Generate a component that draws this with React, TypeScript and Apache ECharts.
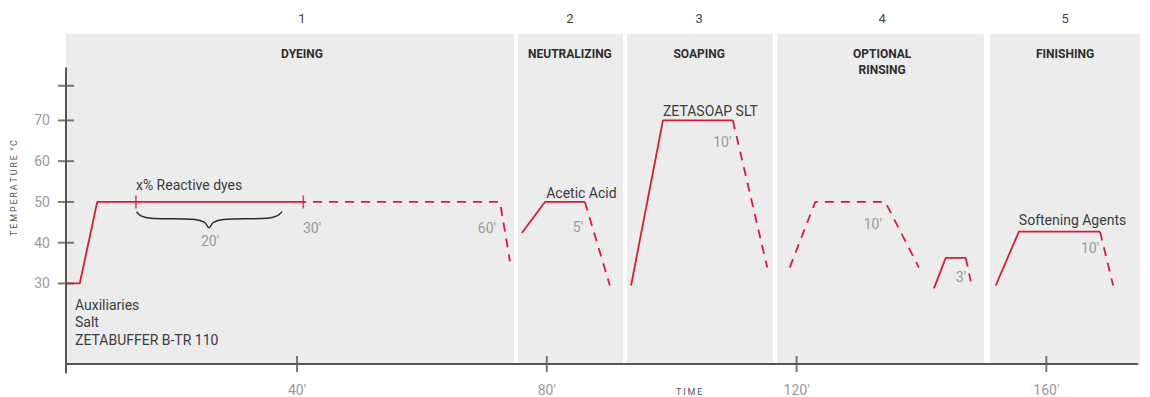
import React, { useEffect, useRef } from "react";
import * as echarts from "echarts";

const RED = "#d81a3d";
const AXIS = "#5b5552";
const GRAY = "#9a9a9a";
const DARK = "#3c3c3c";
const PANEL = "#ececec";
const FONT = "Roboto, 'Noto Sans', sans-serif";

// axes
const xTickValues = [40, 80, 120, 160];
const yTickValues = [30, 40, 50, 60, 70, 78.5];
const yLabelValues = [30, 40, 50, 60, 70];
const xAxisLine = [[1.7, 10.25], [174.7, 10.25]];
const yAxisLine = [[3, 8], [3, 83]];

// phases
const phaseNumbers = ["1", "2", "3", "4", "5"];
const phaseTitles = ["DYEING", "NEUTRALIZING", "SOAPING", "OPTIONAL\nRINSING", "FINISHING"];
const phaseStart = [3, 75.4, 92.85, 116.9, 151];
const phaseEnd = [74.75, 92.2, 116.2, 150, 175];
const phaseLabelX = [40.8, 83.7, 104.4, 133.7, 163.0];

// temperature profile: solid segments
const solidSegments = [
  [[3, 30], [5.2, 30], [8, 50], [40, 50]],
  [[76, 42.4], [79.7, 50], [86.1, 50]],
  [[93.5, 29.5], [98.6, 70], [109.8, 70]],
  [[142, 28.8], [143.9, 36.3], [147.1, 36.3]],
  [[151.9, 29.5], [155.6, 42.7], [168.6, 42.7]],
];
// dashed segments
const dashedSegments = [
  [[40, 50], [72.5, 50], [74.1, 35.4]],
  [[86.1, 50], [90.1, 29.5]],
  [[109.8, 70], [115.3, 33.9]],
  [[118.9, 33.9], [123, 50], [134.2, 50], [139.6, 33.9]],
  [[147.1, 36.3], [147.9, 30.5]],
  [[168.6, 42.7], [170.7, 29.5]],
];
const lineMarks = [[14.2, 50], [41, 50]];
const bracePoints = [
  [14.3, 47.6], [15.0, 46.6], [16.6, 46.0], [23.6, 45.7], [25.2, 45.0], [25.9, 43.7],
  [26.6, 45.0], [28.2, 45.7], [35.2, 46.0], [36.8, 46.6], [37.6, 47.6],
];

// annotations: text, x, y, kind
const annoTexts = [
  "x% Reactive dyes", "20′", "30′", "60′", "Acetic Acid", "5′", "ZETASOAP SLT", "10′",
  "10′", "3′", "Softening Agents", "10′", "Auxiliaries", "Salt", "ZETABUFFER B-TR 110",
];
const annoX = [14.2, 26.06, 42.4, 70.4, 79.9, 85.0, 98.6, 108.1, 132.2, 146.3, 155.6, 167.0, 4.44, 4.44, 4.44];
const annoY = [54.2, 40.5, 43.7, 43.7, 52.2, 43.9, 72.2, 64.6, 44.6, 31.7, 45.6, 38.8, 24.6, 20.5, 16.1];
const annoDark = [true, false, false, false, true, false, true, false, false, false, true, false, true, true, true];

export default function App() {
  const ref = useRef<HTMLDivElement>(null);
  useEffect(() => {
    const chart = echarts.init(ref.current!, null, { renderer: "svg" });
    const series: any[] = [];
    series.push({
      type: "line",
      data: yAxisLine,
      symbol: "none",
      clip: false,
      z: 5,
      silent: true,
      lineStyle: { color: AXIS, width: 2 },
      markArea: {
        silent: true,
        itemStyle: { color: PANEL },
        data: phaseStart.map((s, i) => [{ xAxis: s }, { xAxis: phaseEnd[i] }]),
      },
    });
    series.push({
      type: "line",
      data: xAxisLine,
      symbol: "none",
      clip: false,
      z: 5,
      silent: true,
      lineStyle: { color: AXIS, width: 2 },
    });
    series.push({
      type: "scatter",
      data: xTickValues.map((v) => [v, 10.25]),
      symbol: "rect",
      symbolSize: [2, 16],
      clip: false,
      z: 5,
      silent: true,
      itemStyle: { color: AXIS },
    });
    series.push({
      type: "scatter",
      data: yTickValues.map((v) => [3, v]),
      symbol: "rect",
      symbolSize: [16, 2],
      clip: false,
      z: 5,
      silent: true,
      itemStyle: { color: AXIS },
    });
    solidSegments.forEach((seg) =>
      series.push({
        type: "line",
        data: seg,
        symbol: "none",
        clip: false,
        z: 4,
        silent: true,
        lineStyle: { color: RED, width: 1.8 },
      })
    );
    dashedSegments.forEach((seg) =>
      series.push({
        type: "line",
        data: seg,
        symbol: "none",
        clip: false,
        z: 4,
        silent: true,
        lineStyle: { color: RED, width: 1.8, type: [9, 7] },
      })
    );
    series.push({
      type: "scatter",
      data: lineMarks,
      symbol: "rect",
      symbolSize: [1.6, 13],
      z: 4,
      silent: true,
      itemStyle: { color: RED },
    });
    series.push({
      type: "line",
      data: bracePoints,
      symbol: "none",
      smooth: 0.35,
      z: 4,
      silent: true,
      lineStyle: { color: "#2a2a2a", width: 1.4 },
    });

    chart.setOption({
      animation: false,
      textStyle: { fontFamily: FONT },
      grid: { left: 66, right: 10, top: 34, bottom: 30, containLabel: false },
      xAxis: {
        type: "value",
        min: 3,
        max: 175,
        axisLine: { show: false },
        axisTick: { show: false },
        splitLine: { show: false },
        axisLabel: {
          customValues: xTickValues,
          formatter: (v: number) => v + "′",
          color: GRAY,
          fontSize: 14,
          margin: 18,
          fontFamily: FONT,
        },
      },
      yAxis: {
        type: "value",
        min: 10,
        max: 91.2,
        axisLine: { show: false },
        axisTick: { show: false },
        splitLine: { show: false },
        axisLabel: {
          customValues: yLabelValues,
          color: GRAY,
          fontSize: 14,
          margin: 16,
          fontFamily: FONT,
        },
      },
      series,
    });

    const px = (x: number, y: number) => chart.convertToPixel({ gridIndex: 0 }, [x, y]) as number[];
    const graphics: any[] = [];
    phaseNumbers.forEach((n, i) => {
      const [x] = px(phaseLabelX[i], 50);
      graphics.push({
        type: "text",
        x,
        y: 18,
        z: 10,
        style: { text: n, fill: "#444", font: `13px ${FONT}`, textAlign: "center", textVerticalAlign: "middle" },
      });
      graphics.push({
        type: "text",
        x,
        y: 46,
        z: 10,
        style: {
          text: phaseTitles[i],
          fill: "#2e2e2e",
          font: `bold 12px ${FONT}`,
          textAlign: "center",
          textVerticalAlign: "top",
          lineHeight: 16,
        },
      });
    });
    annoTexts.forEach((t, i) => {
      const [x, y] = px(annoX[i], annoY[i]);
      const dark = annoDark[i];
      graphics.push({
        type: "text",
        x,
        y,
        z: 10,
        style: {
          text: t,
          fill: dark ? DARK : GRAY,
          font: `14px ${FONT}`,
          textAlign: dark ? "left" : "center",
          textVerticalAlign: "middle",
        },
      });
    });
    const [tx] = px(102.8, 10);
    graphics.push({
      type: "text",
      x: tx,
      y: 392,
      z: 10,
      style: { text: "T\u2009I\u2009M\u2009E", fill: "#555", font: `9px ${FONT}`, textAlign: "center", textVerticalAlign: "middle" },
    });
    graphics.push({
      type: "text",
      x: 14,
      y: 188,
      z: 10,
      rotation: Math.PI / 2,
      style: {
        text: "T\u2009E\u2009M\u2009P\u2009E\u2009R\u2009A\u2009T\u2009U\u2009R\u2009E\u2009 °\u2009C",
        fill: "#555",
        font: `9px ${FONT}`,
        textAlign: "center",
        textVerticalAlign: "middle",
      },
    });
    chart.setOption({ graphic: graphics });
    return () => chart.dispose();
  }, []);
  return <div ref={ref} style={{ position: "absolute", left: 0, top: 0, width: 1150, height: 397 }} />;
}
